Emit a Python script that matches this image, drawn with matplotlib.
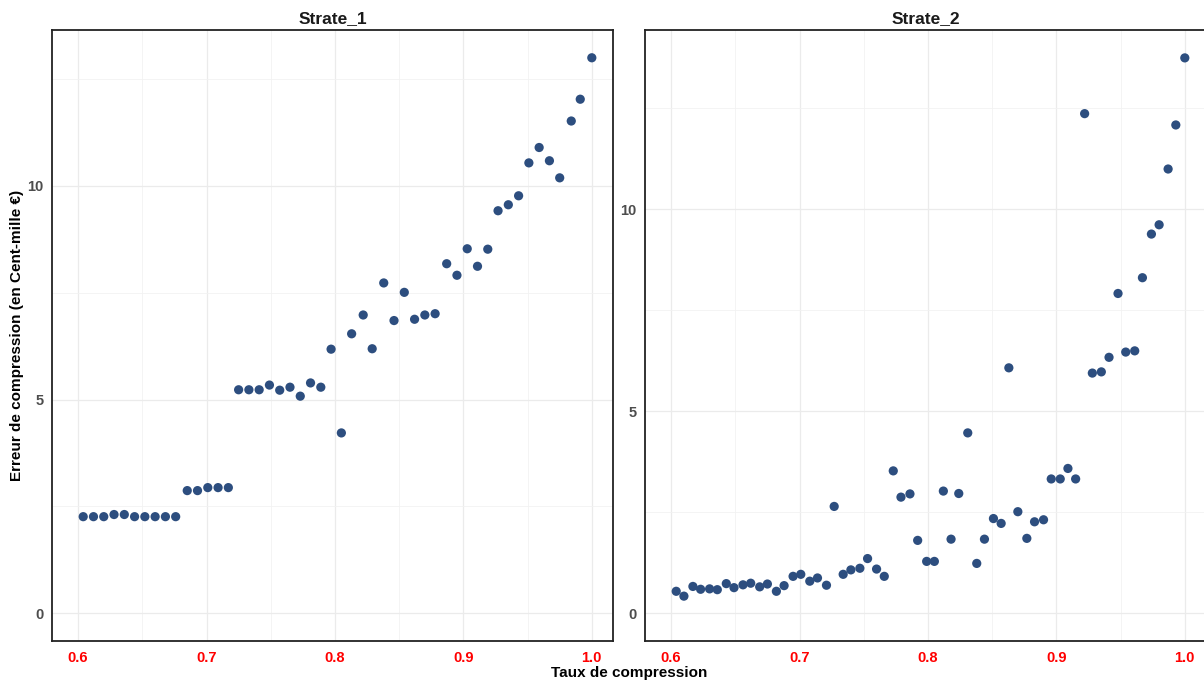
import matplotlib
matplotlib.use("Agg")
import matplotlib.pyplot as plt
from matplotlib.ticker import MultipleLocator

plt.rcParams['font.family'] = ['Liberation Sans', 'DejaVu Sans']

# Strate_1
taux_1 = [0.604, 0.612, 0.620, 0.628, 0.636, 0.644, 0.652, 0.660, 0.668, 0.676,
          0.685, 0.693, 0.701, 0.709, 0.717,
          0.725, 0.733, 0.741, 0.749, 0.757, 0.765, 0.773, 0.781, 0.789,
          0.797, 0.805, 0.813, 0.822, 0.829, 0.838, 0.846, 0.854, 0.862, 0.870,
          0.878, 0.887, 0.895, 0.903, 0.911, 0.919, 0.927, 0.935, 0.943, 0.951,
          0.959, 0.967, 0.975, 0.984, 0.991, 1.000]
erreur_1 = [2.26, 2.26, 2.26, 2.31, 2.31, 2.26, 2.26, 2.26, 2.26, 2.26,
            2.87, 2.87, 2.94, 2.94, 2.94,
            5.23, 5.23, 5.23, 5.34, 5.22, 5.29, 5.08, 5.39, 5.29,
            6.18, 4.22, 6.54, 6.98, 6.19, 7.73, 6.85, 7.51, 6.88, 6.98,
            7.01, 8.18, 7.91, 8.53, 8.12, 8.52, 9.42, 9.56, 9.77, 10.54,
            10.90, 10.59, 10.19, 11.52, 12.03, 13.00]

# Strate_2
taux_2 = [0.604, 0.610, 0.617, 0.623, 0.630, 0.636, 0.643, 0.649, 0.656, 0.662,
          0.669, 0.675, 0.682, 0.688, 0.695, 0.701, 0.708, 0.714, 0.721, 0.727,
          0.734, 0.740, 0.747, 0.753, 0.760, 0.766, 0.773, 0.779, 0.786, 0.792,
          0.799, 0.805, 0.812, 0.818, 0.824, 0.831, 0.838, 0.844, 0.851, 0.857,
          0.863, 0.870, 0.877, 0.883, 0.890, 0.896, 0.903, 0.909, 0.915, 0.922,
          0.928, 0.935, 0.941, 0.948, 0.954, 0.961, 0.967, 0.974, 0.980, 0.987,
          0.993, 1.000]
erreur_2 = [0.54, 0.42, 0.66, 0.59, 0.60, 0.58, 0.73, 0.63, 0.70, 0.74,
            0.65, 0.72, 0.54, 0.68, 0.91, 0.96, 0.79, 0.87, 0.69, 2.64,
            0.96, 1.07, 1.11, 1.35, 1.09, 0.91, 3.52, 2.87, 2.95, 1.80,
            1.28, 1.28, 3.02, 1.83, 2.96, 4.46, 1.23, 1.83, 2.34, 2.22,
            6.07, 2.51, 1.85, 2.26, 2.31, 3.32, 3.32, 3.58, 3.32, 12.36,
            5.94, 5.97, 6.33, 7.91, 6.46, 6.49, 8.30, 9.38, 9.61, 10.99,
            12.08, 13.74]

panneaux = ["Strate_1", "Strate_2"]
x_ticks = [0.6, 0.7, 0.8, 0.9, 1.0]
x_tick_labels = ["0.6", "0.7", "0.8", "0.9", "1.0"]
y_ticks = [0, 5, 10]

W, H = 1204, 681
fig = plt.figure(figsize=(W / 100, H / 100), dpi=100)

# positions en pixels (gauche, haut, droite, bas)
cadres = [(52, 30, 613, 641), (645, 30, 1206, 641)]
ylims = [(-0.65, 13.65), (-0.69, 14.43)]
donnees = [(taux_1, erreur_1), (taux_2, erreur_2)]

for i, (titre, (l, t, r, b)) in enumerate(zip(panneaux, cadres)):
    ax = fig.add_axes([l / W, 1 - b / H, (r - l) / W, (b - t) / H])
    x, y = donnees[i]
    ax.scatter(x, y, s=44, color="#2D4E7F", edgecolors="none", zorder=3)
    ax.set_xlim(0.5797, 1.0165)
    ax.set_ylim(*ylims[i])
    ax.set_xticks(x_ticks)
    ax.set_xticklabels(x_tick_labels)
    ax.set_yticks(y_ticks)
    ax.xaxis.set_minor_locator(MultipleLocator(0.05))
    ax.yaxis.set_minor_locator(MultipleLocator(2.5))
    ax.grid(True, which="major", color="#EBEBEB", linewidth=0.9)
    ax.grid(True, which="minor", color="#F2F2F2", linewidth=0.6)
    ax.set_axisbelow(True)
    ax.tick_params(which="both", length=0)
    ax.tick_params(axis="x", pad=7, labelsize=10.5, labelcolor="red")
    ax.tick_params(axis="y", pad=6, labelsize=10.5, labelcolor="#4D4D4D")
    for lab in ax.get_xticklabels() + ax.get_yticklabels():
        lab.set_fontweight("bold")
    for sp in ax.spines.values():
        sp.set_color("#222222")
        sp.set_linewidth(1.3)
    ax.set_title(titre, fontsize=12.5, fontweight="bold", color="#1A1A1A", pad=5)

fig.text(629 / W, 1 - 673 / H, "Taux de compression", ha="center", va="center",
         fontsize=11, fontweight="bold")
fig.text(17 / W, 1 - 335.5 / H, "Erreur de compression (en Cent-mille €)",
         ha="center", va="center", rotation=90, fontsize=11, fontweight="bold")

fig.savefig("out.png", dpi=100, facecolor="white")
